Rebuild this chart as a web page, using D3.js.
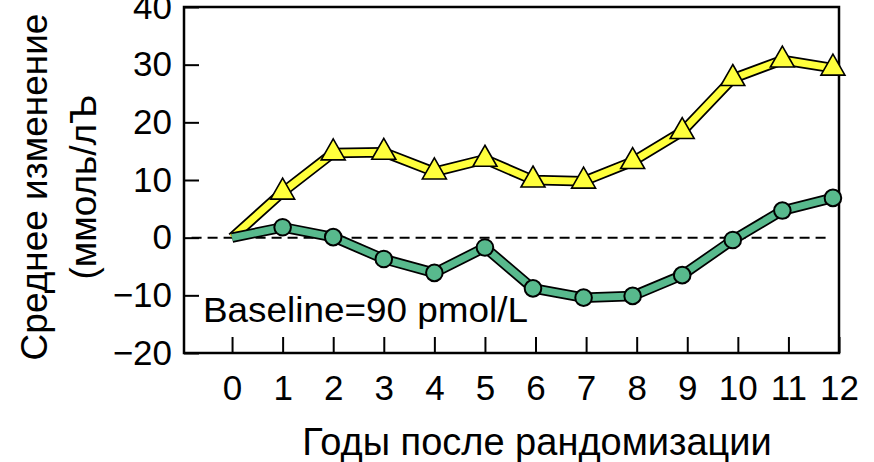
<!DOCTYPE html>
<html><head><meta charset="utf-8">
<script src="https://cdn.jsdelivr.net/npm/d3@7"></script>
<style>body{margin:0;background:#fff} svg{display:block}</style>
</head><body>
<svg id="c" width="874" height="462"></svg>
<script>
// Data
const years = [0, 1, 2, 3, 4, 5, 5.95, 6.95, 7.92, 8.9, 9.9, 10.88, 11.88];
const seriesTriangle = [0, 7.9, 14.7, 14.8, 11.4, 13.6, 10.0, 9.8, 13.2, 18.4, 27.6, 30.8, 29.4];
const seriesCircle = [0, 1.8, 0.1, -3.7, -6.1, -1.7, -8.8, -10.4, -10.1, -6.5, -0.4, 4.7, 6.9];
const xTickValues = [0, 1, 2, 3, 4, 5, 6, 7, 8, 9, 10, 11, 12];
const yTickValues = [-20, -10, 0, 10, 20, 30, 40];
const baselineLabel = "Baseline=90 pmol/L";
const xTitle = "Годы после рандомизации";
const yTitle1 = "Среднее изменение";
const yTitle2 = "(ммоль/лЪ";

const svg = d3.select("#c");
const L = 184, R = 839, T = 7, B = 353;
const FONT = "'Liberation Sans', Arial, sans-serif";
const x = d3.scaleLinear().domain([-0.95, 12]).range([L, R]);
const y = d3.scaleLinear().domain([-20, 40]).range([B, T]);

// Axes (ticks inward)
const xAxis = d3.axisBottom(x).tickValues(xTickValues).tickSize(-16).tickPadding(22).tickFormat(d3.format("d"));
const gx = svg.append("g").attr("transform", `translate(0,${B})`).call(xAxis);
gx.select(".domain").remove();
gx.selectAll(".tick line").attr("stroke", "#000").attr("stroke-width", 2);
gx.selectAll(".tick text").attr("font-family", FONT).attr("font-size", 35).attr("fill", "#000");

const yAxis = d3.axisLeft(y).tickValues(yTickValues).tickSize(-15).tickPadding(12)
  .tickFormat(d => d < 0 ? "\u2212" + Math.abs(d) : String(d));
const gy = svg.append("g").attr("transform", `translate(${L},0)`).call(yAxis);
gy.select(".domain").remove();
gy.selectAll(".tick line").attr("stroke", "#000").attr("stroke-width", 2);
gy.selectAll(".tick text").attr("font-family", FONT).attr("font-size", 35).attr("fill", "#000");

// Frame
svg.append("rect").attr("x", L).attr("y", T).attr("width", R - L).attr("height", B - T)
  .attr("fill", "none").attr("stroke", "#000").attr("stroke-width", 2.5);

// zero dashed line
svg.append("line").attr("x1", x(-0.8)).attr("x2", x(11.8)).attr("y1", y(0)).attr("y2", y(0))
  .attr("stroke", "#000").attr("stroke-width", 2).attr("stroke-dasharray", "10,6");

const lineGen = d3.line().x(d => x(d[0])).y(d => y(d[1]));
const triData = years.map((yr, i) => [yr, seriesTriangle[i]]);
const cirData = years.map((yr, i) => [yr, seriesCircle[i]]);

function outlinedLine(data, color) {
  svg.append("path").attr("d", lineGen(data)).attr("fill", "none")
    .attr("stroke", "#000").attr("stroke-width", 10.5).attr("stroke-linejoin", "round");
  svg.append("path").attr("d", lineGen(data)).attr("fill", "none")
    .attr("stroke", color).attr("stroke-width", 7).attr("stroke-linejoin", "round");
}
const YELLOW = "#ffff3c", GREEN = "#58b98d";
outlinedLine(triData, YELLOW);
outlinedLine(cirData, GREEN);

const s = 24, h = 21;
const triPath = `M0,${-h * 2 / 3}L${s / 2},${h / 3}L${-s / 2},${h / 3}Z`;
svg.append("g").selectAll("path").data(triData.slice(1)).join("path")
  .attr("d", triPath).attr("transform", d => `translate(${x(d[0])},${y(d[1])})`)
  .attr("fill", YELLOW).attr("stroke", "#000").attr("stroke-width", 1.6);
svg.append("g").selectAll("circle").data(cirData.slice(1)).join("circle")
  .attr("cx", d => x(d[0])).attr("cy", d => y(d[1])).attr("r", 8.3)
  .attr("fill", GREEN).attr("stroke", "#000").attr("stroke-width", 2);

// Baseline label
svg.append("text").attr("x", 203).attr("y", 322).attr("font-family", FONT).attr("font-size", 35)
  .attr("textLength", 325).attr("lengthAdjust", "spacingAndGlyphs")
  .attr("fill", "#000").text(baselineLabel);

// Axis titles
svg.append("text").attr("x", 537).attr("y", 455).attr("text-anchor", "middle")
  .attr("font-family", FONT).attr("font-size", 38).attr("fill", "#000").text(xTitle);
const yt = svg.append("text").attr("transform", "translate(0,187) rotate(-90)")
  .attr("text-anchor", "middle").attr("font-family", FONT).attr("font-size", 37).attr("fill", "#000");
yt.append("tspan").attr("x", 0).attr("y", 47).text(yTitle1);
yt.append("tspan").attr("x", 0).attr("y", 96).text(yTitle2);
</script>
</body></html>
